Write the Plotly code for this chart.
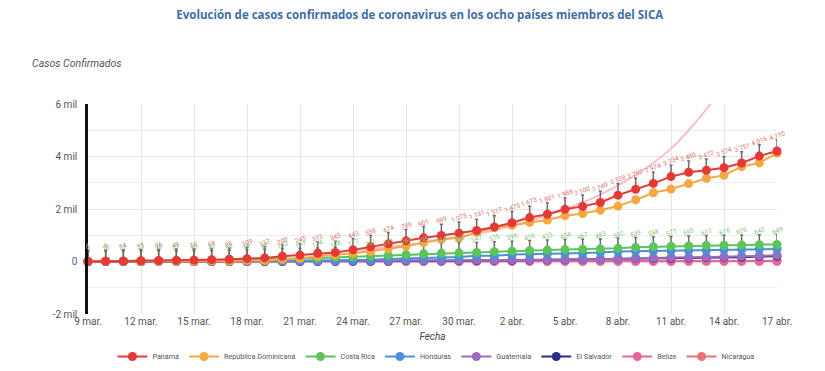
import pandas as pd
import plotly.graph_objects as go

dates = pd.date_range("2020-03-09", "2020-04-17", freq="D")

panama = [1, 8, 14, 27, 36, 43, 55, 69, 86, 109, 137, 200, 245, 313, 345, 443, 558, 674, 786, 901, 989, 1075, 1181,
          1317, 1475, 1673, 1801, 1988, 2100, 2249, 2528, 2752, 2974, 3234, 3400, 3472, 3574, 3751, 4016, 4210]
rep_dom = [5, 5, 5, 5, 11, 11, 11, 21, 21, 34, 34, 72, 112, 202, 245, 312, 392, 488, 581, 719, 859, 901, 1109,
           1284, 1380, 1488, 1578, 1745, 1828, 1956, 2111, 2349, 2620, 2759, 2967, 3167, 3286, 3614, 3755, 4126]
costa_rica = [9, 13, 22, 23, 26, 27, 35, 41, 50, 69, 87, 113, 117, 134, 158, 177, 201, 231, 263, 295, 314, 330, 347,
              375, 396, 416, 435, 454, 467, 483, 502, 539, 558, 577, 595, 612, 618, 626, 642, 649]
honduras = [0, 0, 2, 2, 3, 3, 6, 8, 9, 12, 24, 26, 30, 36, 36, 52, 68, 95, 110, 139, 141, 172, 219,
            222, 264, 268, 298, 305, 312, 343, 382, 392, 397, 407, 419, 426, 442, 457, 472, 477]
guatemala = [0, 0, 0, 0, 1, 1, 2, 6, 6, 9, 12, 17, 19, 20, 21, 24, 25, 28, 34, 36, 39, 47, 50,
             50, 61, 61, 70, 74, 77, 87, 95, 126, 137, 153, 156, 167, 180, 196, 214, 235]
el_salvador = [0, 0, 0, 0, 0, 0, 0, 0, 0, 1, 1, 3, 3, 5, 5, 13, 13, 19, 24, 30, 30, 32, 32,
               41, 46, 56, 62, 69, 78, 93, 103, 117, 118, 125, 137, 149, 159, 164, 190, 201]
belize = [0, 0, 0, 0, 0, 0, 0, 0, 0, 0, 0, 0, 0, 0, 1, 2, 2, 2, 3, 3, 3, 3, 3,
          3, 4, 5, 7, 7, 7, 7, 8, 9, 10, 10, 14, 14, 18, 18, 18, 18]
nicaragua = [0, 0, 0, 0, 0, 0, 0, 0, 0, 1, 1, 1, 2, 2, 2, 2, 2, 2, 4, 4, 4, 4, 5,
             5, 5, 5, 5, 6, 6, 6, 6, 6, 9, 9, 9, 9, 9, 9, 9, 9]

trend_dates = pd.date_range("2020-03-24", "2020-04-14", freq="D")
trend_values = [420, 480, 550, 630, 720, 820, 930, 1050, 1190, 1350, 1540, 1760, 2000, 2250, 2550, 2900,
                3300, 3750, 4300, 5000, 5800, 6700]

series = [
    ("Panamá", panama, "#e53935"),
    ("República Dominicana", rep_dom, "#f5a742"),
    ("Costa Rica", costa_rica, "#5cc45a"),
    ("Honduras", honduras, "#4a90d9"),
    ("Guatemala", guatemala, "#9a6cc0"),
    ("El Salvador", el_salvador, "#2a2e8c"),
    ("Belize", belize, "#e8649c"),
    ("Nicaragua", nicaragua, "#e8727a"),
]

tick_dates = dates[::3]
tick_text = ["9 mar.", "12 mar.", "15 mar.", "18 mar.", "21 mar.", "24 mar.", "27 mar.", "30 mar.",
             "2 abr.", "5 abr.", "8 abr.", "11 abr.", "14 abr.", "17 abr."]
y_ticks = [-2000, 0, 2000, 4000, 6000]
y_text = ["-2 mil", "<span style='color:#3f5f9a'>0</span>", "2 mil", "4 mil", "6 mil"]

fig = go.Figure()

fig.add_trace(go.Scatter(x=trend_dates, y=trend_values, mode="lines",
                         line=dict(color="#f6bfca", width=2, shape="spline"),
                         showlegend=False, hoverinfo="skip"))

stems = {"Panamá": 430, "Costa Rica": 380}
for name, vals, col in reversed(series):
    err = None
    if name in stems:
        err = dict(type="data", symmetric=False, array=[stems[name]] * len(vals), arrayminus=[0] * len(vals),
                   color="#6b6b6b", thickness=1.5, width=1.5)
    fig.add_trace(go.Scatter(
        x=dates, y=vals, name=name, mode="lines+markers",
        line=dict(color=col, width=2), marker=dict(color=col, size=9),
        error_y=err, cliponaxis=False,
    ))

for d, v in zip(dates, panama):
    fig.add_annotation(x=d, y=v + 580, xref="x", yref="y", text=f"{v:,}".replace(",", " "),
                       showarrow=False, textangle=-20, font=dict(size=6.5, color="#d9766c"))
for d, v in zip(dates, costa_rica):
    fig.add_annotation(x=d, y=v + 520, xref="x", yref="y", text=f"{v:,}".replace(",", " "),
                       showarrow=False, textangle=-20, font=dict(size=6.5, color="#7fc57d"))

fig.add_annotation(text="<i>Casos Confirmados</i>", xref="paper", yref="paper", x=-0.084, y=1.195,
                   xanchor="left", yanchor="middle", showarrow=False,
                   font=dict(size=10.5, color="#555", family="Roboto"))

fig.update_layout(
    width=817, height=363,
    margin=dict(l=80, r=48, t=96, b=57, autoexpand=False),
    paper_bgcolor="white", plot_bgcolor="white",
    title=dict(text="<b>Evolución de casos confirmados de coronavirus en los ocho países miembros del SICA</b>",
               x=0.504, xanchor="center", y=0.981, yanchor="middle",
               font=dict(size=11.5, color="#3f6ea8", family="Open Sans")),
    font=dict(family="Roboto", color="#555", size=10),
    xaxis=dict(type="date", range=[dates[0], dates[-1]], tickvals=tick_dates, ticktext=tick_text,
               showgrid=True, gridcolor="#e6e6e6", gridwidth=1, zeroline=False, showline=False,
               tickfont=dict(size=10, color="#555"), ticks="", automargin=False,
               title=dict(text="<i>Fecha</i>", font=dict(size=10, color="#444"), standoff=6)),
    yaxis=dict(range=[-2000, 6000], tickvals=y_ticks, ticktext=y_text, showgrid=True, gridcolor="#e6e6e6",
               minor=dict(dtick=1000, showgrid=True, gridcolor="#eeeeee"),
               zeroline=False, showline=True, linecolor="#111", linewidth=2.5, ticks="",
               tickfont=dict(size=10, color="#555"), ticklabelstandoff=6, automargin=False),
    legend=dict(orientation="h", x=0.505, xanchor="center", y=-0.2714, yanchor="bottom", traceorder="reversed",
                font=dict(size=7.2, color="#555"), itemwidth=30, tracegroupgap=0),
    showlegend=True,
)

fig.write_html("out.html")
